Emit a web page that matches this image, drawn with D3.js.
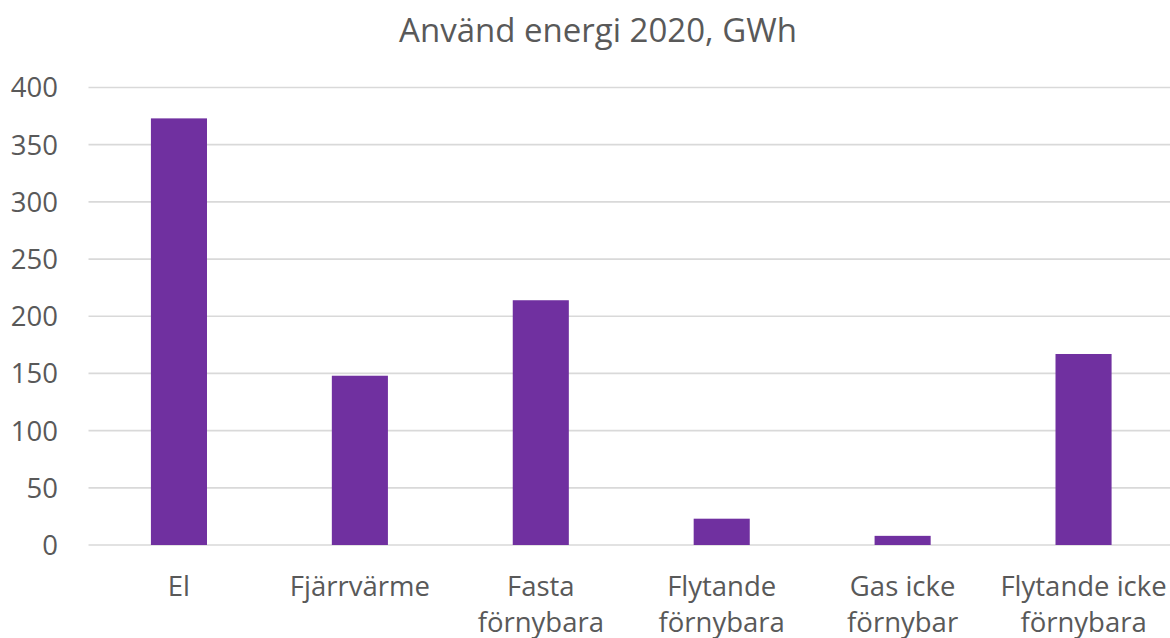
<!DOCTYPE html>
<html>
<head>
<meta charset="utf-8">
<script src="https://cdn.jsdelivr.net/npm/d3@7"></script>
<style>
  body { margin: 0; background: #fff; }
  text { font-family: "Open Sans", "Noto Sans", sans-serif; fill: #595959; }
</style>
</head>
<body>
<div id="chart"></div>
<script>
var categories = ["El", "Fjärrvärme", "Fasta förnybara", "Flytande förnybara", "Gas icke förnybar", "Flytande icke förnybara"];
var categoryLines = [["El"], ["Fjärrvärme"], ["Fasta", "förnybara"], ["Flytande", "förnybara"], ["Gas icke", "förnybar"], ["Flytande icke", "förnybara"]];
var values = [373, 148, 214, 23, 8, 167];
var yTicks = [0, 50, 100, 150, 200, 250, 300, 350, 400];
var title = "Använd energi 2020, GWh";

var width = 1170, height = 638;
var margin = { top: 87.5, left: 88.5, bottom: 93, right: -4 };

var svg = d3.select("#chart").append("svg")
    .attr("width", width)
    .attr("height", height);

var x = d3.scaleBand()
    .domain(categories)
    .range([margin.left, width - margin.right])
    .paddingInner(0.69)
    .paddingOuter(0.345);

var y = d3.scaleLinear()
    .domain([0, 400])
    .range([height - margin.bottom, margin.top]);

// gridlines
svg.append("g")
    .selectAll("line")
    .data(yTicks)
    .enter()
    .append("line")
    .attr("x1", margin.left)
    .attr("x2", width - margin.right)
    .attr("y1", function (d) { return y(d); })
    .attr("y2", function (d) { return y(d); })
    .style("stroke", "#d9d9d9")
    .style("stroke-width", 1.7);

// y labels
svg.append("g")
    .selectAll("text")
    .data(yTicks)
    .enter()
    .append("text")
    .attr("x", 58)
    .attr("y", function (d) { return y(d); })
    .attr("dy", "0.36em")
    .attr("text-anchor", "end")
    .style("font-size", "27.5px")
    .text(function (d) { return d; });

// bars
svg.append("g")
    .selectAll("rect")
    .data(values)
    .enter()
    .append("rect")
    .attr("x", function (d, i) { return x(categories[i]); })
    .attr("width", x.bandwidth())
    .attr("y", function (d) { return y(d); })
    .attr("height", function (d) { return y(0) - y(d); })
    .style("fill", "#7030a0");

// category labels
var catG = svg.append("g")
    .selectAll("text")
    .data(categories)
    .enter()
    .append("text")
    .attr("x", function (d) { return x(d) + x.bandwidth() / 2; })
    .attr("y", 596)
    .attr("text-anchor", "middle")
    .style("font-size", "27.5px");

catG.each(function (d, i) {
    var t = d3.select(this);
    categoryLines[i].forEach(function (line, j) {
        t.append("tspan")
            .attr("x", x(d) + x.bandwidth() / 2)
            .attr("y", 596 + j * 36)
            .text(line);
    });
});

// title
svg.append("text")
    .attr("x", 598)
    .attr("y", 42)
    .attr("text-anchor", "middle")
    .style("font-size", "33px")
    .text(title);
</script>
</body>
</html>
